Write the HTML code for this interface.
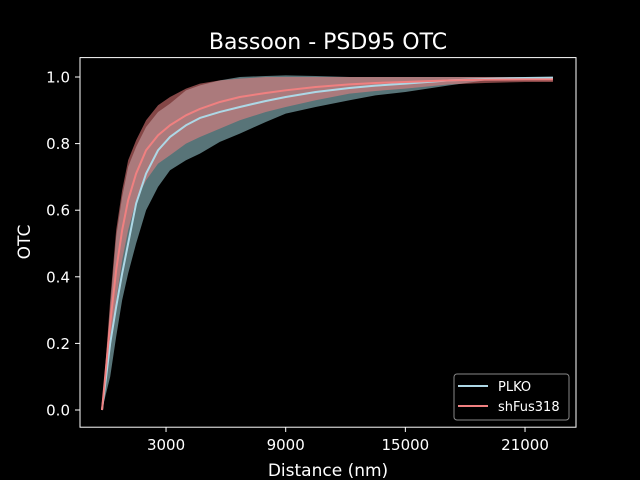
<!DOCTYPE html>
<html><head><meta charset="utf-8"><style>
html,body{margin:0;padding:0;background:#000;}
svg{display:block;font-family:"DejaVu Sans","Liberation Sans",sans-serif;}
</style></head><body>
<svg id="chart" width="640" height="480" viewBox="0 0 640 480" xmlns="http://www.w3.org/2000/svg">
<rect width="640" height="480" fill="#000"/>
<text x="328" y="49" font-size="22" fill="#fff" text-anchor="middle">Bassoon - PSD95 OTC</text>
<g id="bands"></g>
<g id="lines"></g>
<rect x="80" y="57.6" width="496" height="369.6" fill="none" stroke="#fff" stroke-width="1"/>
<g id="xt"></g><g id="yt"></g>
<text x="328" y="476" font-size="17" fill="#fff" text-anchor="middle">Distance (nm)</text>
<text transform="translate(30,242) rotate(-90)" font-size="17" fill="#fff" text-anchor="middle">OTC</text>
<g>
<rect x="454" y="374" width="115" height="46" rx="3" fill="#000" stroke="#888" stroke-width="1"/>
<line x1="458" y1="386" x2="488" y2="386" stroke="#add8e6" stroke-width="2"/>
<text x="498" y="391" font-size="13" fill="#fff">PLKO</text>
<line x1="458" y1="406" x2="488" y2="406" stroke="#f08080" stroke-width="2"/>
<text x="498" y="411" font-size="13" fill="#fff">shFus318</text>
</g>
</svg>
<script>
const distances=[-210,200,500,800,1100,1500,2000,2600,3200,4000,4700,5700,6700,8000,9000,10500,12200,13500,15000,17200,19000,21000,22400];
const plkoMean=[0,0.2,0.31,0.41,0.5,0.62,0.71,0.78,0.82,0.855,0.877,0.895,0.91,0.928,0.94,0.955,0.967,0.974,0.98,0.99,0.994,0.997,0.998];
const plkoLow=[0,0.1,0.22,0.33,0.41,0.5,0.6,0.67,0.72,0.75,0.77,0.805,0.83,0.865,0.89,0.91,0.93,0.945,0.955,0.975,0.99,0.995,0.996];
const plkoHigh=[0,0.31,0.52,0.64,0.73,0.79,0.85,0.895,0.92,0.96,0.975,0.99,1.0,1.003,1.005,1.003,1.0,1.0,1.0,1.0,1.0,1.0,1.0];
const shMean=[0,0.26,0.42,0.54,0.63,0.71,0.78,0.825,0.855,0.885,0.904,0.925,0.94,0.952,0.96,0.97,0.978,0.982,0.985,0.99,0.992,0.993,0.993];
const shLow=[0,0.18,0.33,0.45,0.54,0.63,0.69,0.74,0.765,0.8,0.82,0.845,0.87,0.895,0.91,0.93,0.95,0.958,0.965,0.978,0.982,0.985,0.985];
const shHigh=[0,0.33,0.54,0.66,0.75,0.81,0.87,0.915,0.94,0.965,0.98,0.99,0.995,1.0,1.0,1.0,1.0,1.0,1.0,1.0,1.0,1.0,1.0];
const xTicks=[3000,9000,15000,21000];
const yTicks=[0,0.2,0.4,0.6,0.8,1.0];
const NS="http://www.w3.org/2000/svg";
const X=v=>106.2+v*0.019944;
const Y=v=>410-v*333;
function band(lo,hi,fill,name){
  let d="M"+distances.map((x,i)=>X(x)+","+Y(hi[i])).join("L");
  for(let i=distances.length-1;i>=0;i--)d+="L"+X(distances[i])+","+Y(lo[i]);
  const p=document.createElementNS(NS,"path");
  p.setAttribute("d",d+"Z");p.setAttribute("fill",fill);
  
  
  document.getElementById("bands").appendChild(p);
}
function line(m,color,name){
  const p=document.createElementNS(NS,"path");
  p.setAttribute("d","M"+distances.map((x,i)=>X(x)+","+Y(m[i])).join("L"));
  p.setAttribute("fill","none");p.setAttribute("stroke",color);p.setAttribute("stroke-width","2");p.setAttribute("stroke-linejoin","round");
  
  
  document.getElementById("lines").appendChild(p);
}
band(plkoLow,plkoHigh,"#587478","plko-band");
band(shLow,shHigh,"rgba(240,128,128,0.55)","shfus318-band");
line(plkoMean,"#add8e6","plko-line");
line(shMean,"#f08080","shfus318-line");
const xt=document.getElementById("xt");
xTicks.forEach(t=>{
  const l=document.createElementNS(NS,"line");
  l.setAttribute("x1",X(t));l.setAttribute("x2",X(t));l.setAttribute("y1",427.2);l.setAttribute("y2",432);l.setAttribute("stroke","#fff");
  
  
  xt.appendChild(l);
  const s=document.createElementNS(NS,"text");
  s.setAttribute("x",X(t));s.setAttribute("y",450);s.setAttribute("fill","#fff");s.setAttribute("font-size","15");s.setAttribute("text-anchor","middle");
  s.textContent=t;
  
  
  xt.appendChild(s);
});
const yt=document.getElementById("yt");
yTicks.forEach(t=>{
  const l=document.createElementNS(NS,"line");
  l.setAttribute("x1",75);l.setAttribute("x2",80);l.setAttribute("y1",Y(t));l.setAttribute("y2",Y(t));l.setAttribute("stroke","#fff");
  
  
  yt.appendChild(l);
  const s=document.createElementNS(NS,"text");
  s.setAttribute("x",70);s.setAttribute("y",Y(t)+5.5);s.setAttribute("fill","#fff");s.setAttribute("font-size","15");s.setAttribute("text-anchor","end");
  s.textContent=t.toFixed(1);
  
  
  yt.appendChild(s);
});
</script>
</body></html>
